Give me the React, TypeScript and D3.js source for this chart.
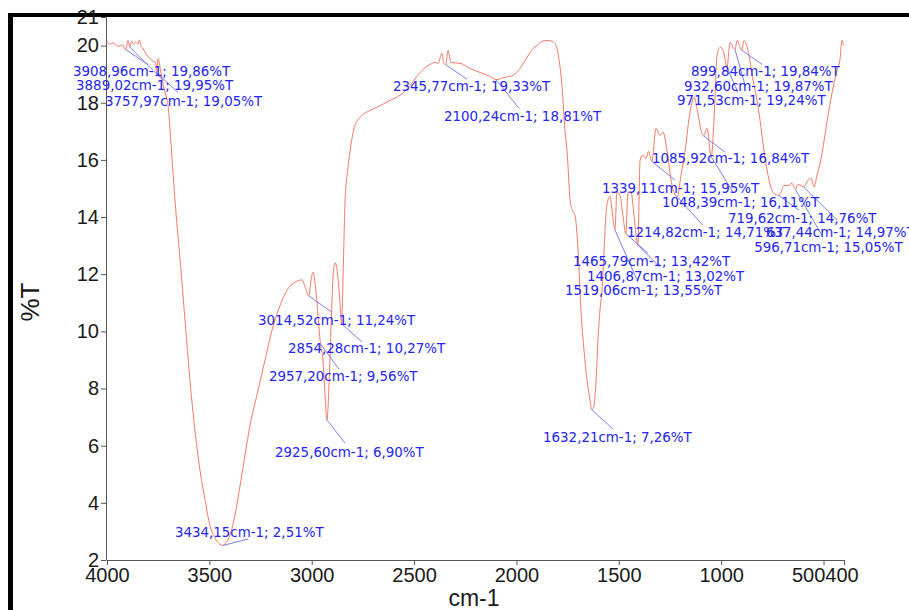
import React, { useRef, useEffect } from "react";
import * as d3 from "d3";

// spectrum (cm-1 / %T)
const wavenumbers = [
  4000, 3985, 3970, 3955, 3940, 3925, 3908.96, 3897, 3889.02, 3880, 3870, 3860, 3850, 3842, 3835, 3825,
  3805, 3790, 3775, 3762, 3757.97, 3750, 3740, 3725, 3710, 3700, 3692, 3680, 3668, 3643, 3619, 3595,
  3570, 3546, 3521, 3497, 3472, 3450, 3434.15, 3420, 3399, 3375, 3350, 3326, 3301, 3262, 3228, 3194,
  3155, 3121, 3082, 3047, 3030, 3014.52, 3003, 2994, 2982, 2970, 2957.2, 2945, 2935, 2925.6, 2915, 2905,
  2895, 2886, 2875, 2862, 2854.28, 2846, 2837, 2825, 2813, 2789, 2754, 2715, 2666, 2618, 2569, 2520,
  2471, 2422, 2398, 2383, 2364, 2355, 2345.77, 2334, 2320, 2276, 2227, 2178, 2129, 2100.24, 2056, 2017,
  1983, 1948, 1919, 1900, 1875, 1851, 1826, 1812, 1797, 1777, 1763, 1753, 1738, 1725, 1714, 1699,
  1685, 1670, 1655, 1641, 1632.21, 1621, 1611, 1602, 1592, 1582, 1572, 1563, 1553, 1543, 1533, 1519.06,
  1509, 1494, 1480, 1465.79, 1455, 1440, 1426, 1406.87, 1396, 1382, 1367, 1355, 1339.11, 1318, 1299, 1284,
  1265, 1240, 1214.82, 1196, 1176, 1151, 1132, 1112, 1098, 1085.92, 1069, 1048.39, 1035, 1020, 1005, 990,
  971.53, 957, 942, 932.6, 922, 908, 899.84, 888, 869, 844, 825, 810, 791, 771, 752, 737,
  719.62, 708, 693, 673, 654, 637.44, 625, 610, 596.71, 576, 561, 546, 532, 517, 497, 478,
  453, 434, 419, 410, 405, 400,
];
const transmittance = [
  20.15, 20.05, 20.1, 20.0, 19.98, 20.02, 19.86, 20.18, 19.95, 20.15, 20.05, 20.12, 20.05, 20.2, 20.0, 19.9,
  19.66, 19.55, 19.45, 19.4, 19.05, 19.55, 19.2, 18.6, 18.2, 17.8, 17.03, 15.8, 14.6, 12.5, 10.4, 8.3,
  6.5, 5.15, 4.1, 3.2, 2.77, 2.56, 2.51, 2.6, 2.87, 3.57, 4.6, 5.67, 6.72, 7.94, 9.0, 10.04,
  10.9, 11.44, 11.72, 11.8, 11.5, 11.24, 11.8, 12.07, 11.6, 10.6, 9.56, 9.0, 7.8, 6.9, 8.2, 10.3,
  12.0, 12.4, 12.1, 11.0, 10.27, 12.2, 14.6, 15.6, 16.3, 17.2, 17.56, 17.73, 17.9, 18.08, 18.26, 18.6,
  19.06, 19.34, 19.41, 19.38, 19.73, 19.38, 19.33, 19.83, 19.41, 19.38, 19.2, 19.06, 18.92, 18.81, 18.89, 18.96,
  19.2, 19.59, 19.9, 20.0, 20.15, 20.18, 20.15, 20.08, 19.73, 18.54, 17.03, 16.34, 14.6, 14.2, 14.06, 12.84,
  10.74, 9.34, 8.29, 7.6, 7.26, 7.42, 8.29, 9.69, 10.74, 11.44, 12.84, 14.06, 14.59, 14.73, 14.24, 13.55,
  14.87, 14.76, 14.06, 13.42, 14.87, 14.87, 14.06, 13.02, 15.99, 16.16, 16.06, 16.3, 15.95, 17.1, 16.86, 16.97,
  16.34, 15.1, 14.71, 15.46, 16.34, 17.73, 18.19, 17.56, 17.03, 16.84, 17.1, 16.11, 17.38, 19.66, 19.94, 19.83,
  19.24, 20.11, 19.94, 19.87, 20.18, 19.94, 19.84, 20.18, 19.83, 18.78, 18.08, 17.38, 16.34, 15.46, 14.94, 14.8,
  14.76, 14.87, 15.1, 15.1, 15.18, 14.97, 15.15, 15.1, 15.05, 15.29, 15.36, 15.05, 15.46, 15.88, 16.69, 17.56,
  18.54, 19.13, 19.55, 20.18, 20.08, 20.0,
];

// picked peaks
const peakWn = [3908.96, 3889.02, 3757.97, 2345.77, 2100.24, 899.84, 932.6, 971.53, 1085.92, 1339.11, 1048.39, 1214.82, 719.62, 637.44, 596.71, 1465.79, 1406.87, 1519.06, 3014.52, 2854.28, 2957.2, 2925.6, 1632.21, 3434.15];
const peakT = [19.86, 19.95, 19.05, 19.33, 18.81, 19.84, 19.87, 19.24, 16.84, 15.95, 16.11, 14.71, 14.76, 14.97, 15.05, 13.42, 13.02, 13.55, 11.24, 10.27, 9.56, 6.9, 7.26, 2.51];
// where each label sits (left edge / baseline) and where its leader ends, in axis units
const labelWn = [4166, 4151, 4010, 2603, 2354, 1147, 1181, 1216, 1338, 1582, 1289, 1460, 967, 781, 839, 1724, 1655, 1763, 3262, 3116, 3209, 3179, 1870, 3668];
const labelT = [18.92, 18.43, 17.87, 18.4, 17.35, 18.92, 18.4, 17.91, 15.88, 14.83, 14.34, 13.29, 13.78, 13.29, 12.77, 12.28, 11.76, 11.27, 10.22, 9.24, 8.26, 5.6, 6.13, 2.8];
const leaderWn = [3800, 3726, 3653, 2241, 1987, 800, 883, 918, 981, 1225, 942, 1089, 620, 502, 434, 1357, 1299, 1406, 2901, 2754, 2867, 2837, 1528, 3311];
const leaderT = [19.34, 18.78, 18.36, 18.82, 17.8, 19.34, 18.61, 18.36, 16.27, 15.29, 14.87, 13.71, 14.24, 13.29, 13.89, 12.73, 12.24, 11.72, 10.67, 9.62, 8.68, 6.09, 6.58, 2.73];

const xTicks = [4000, 3500, 3000, 2500, 2000, 1500, 1000, 500, 400];
const yTicks = [2, 4, 6, 8, 10, 12, 14, 16, 18, 20, 21];

const fmt = (v) => v.toFixed(2).replace(".", ",");

const App = () => {
  const svgRef = useRef(null);

  useEffect(() => {
    const svg = d3.select(svgRef.current);
    svg.selectAll("*").remove();

    const x = d3.scaleLinear().domain([4000, 400]).range([107, 844]);
    const y = d3.scaleLinear().domain([2, 21]).range([560, 17]);

    // window frame
    svg.append("rect").attr("x", 8).attr("y", 13).attr("width", 901).attr("height", 4).attr("fill", "#000");
    svg.append("rect").attr("x", 8).attr("y", 13).attr("width", 5).attr("height", 597).attr("fill", "#000");

    // axes
    const gx = svg
      .append("g")
      .attr("transform", "translate(0,560)")
      .call(d3.axisBottom(x).tickValues(xTicks).tickFormat(d3.format("d")).tickSize(5).tickSizeOuter(0).tickPadding(3));
    const gy = svg
      .append("g")
      .attr("transform", "translate(106,0)")
      .call(d3.axisLeft(y).tickValues(yTicks).tickFormat(d3.format("d")).tickSize(5).tickSizeOuter(0).tickPadding(2));
    [gx, gy].forEach((g) => {
      g.selectAll("path,line").attr("stroke", "#555");
      g.selectAll("text")
        .attr("fill", "#1a1a1a")
        .style("font-family", "'Liberation Sans', Arial, sans-serif")
        .style("font-size", "20px");
    });
    // the last two x labels are pushed apart so they don't overlap (as the original software does)
    const gap = x(400) - x(500);
    gx.selectAll(".tick text")
      .filter((d) => d === 500)
      .attr("text-anchor", "end")
      .attr("x", gap / 2 - 9);
    gx.selectAll(".tick text")
      .filter((d) => d === 400)
      .attr("text-anchor", "start")
      .attr("x", -gap / 2 - 9);

    svg
      .append("text")
      .attr("x", 474)
      .attr("y", 606)
      .attr("text-anchor", "middle")
      .style("font-family", "'Liberation Sans', Arial, sans-serif")
      .style("font-size", "23px")
      .attr("fill", "#1a1a1a")
      .text("cm-1");

    svg
      .append("text")
      .attr("transform", "translate(39,302) rotate(-90)")
      .attr("text-anchor", "middle")
      .style("font-family", "'Liberation Sans', Arial, sans-serif")
      .style("font-size", "26px")
      .attr("fill", "#1a1a1a")
      .text("%T");

    // spectrum
    const line = d3
      .line()
      .x((d) => x(d[0]))
      .y((d) => y(d[1]))
      .curve(d3.curveMonotoneX);
    svg
      .append("path")
      .datum(wavenumbers.map((w, i) => [w, transmittance[i]]))
      .attr("fill", "none")
      .attr("stroke", "#f47a66")
      .attr("stroke-width", 1)
      .attr("d", line);

    // peak labels
    const peaks = peakWn.map((w, i) => ({
      w,
      t: peakT[i],
      lw: labelWn[i],
      lt: labelT[i],
      ew: leaderWn[i],
      et: leaderT[i],
    }));

    svg
      .selectAll(".leader")
      .data(peaks)
      .enter()
      .append("line")
      .attr("class", "leader")
      .attr("x1", (d) => x(d.w))
      .attr("y1", (d) => y(d.t))
      .attr("x2", (d) => x(d.ew))
      .attr("y2", (d) => y(d.et))
      .attr("stroke", "#7f7fef")
      .attr("stroke-width", 1);

    svg
      .selectAll(".peak-label")
      .data(peaks)
      .enter()
      .append("text")
      .attr("class", "peak-label")
      .attr("x", (d) => x(d.lw))
      .attr("y", (d) => y(d.lt))
      .attr("fill", "#2424f4")
      .style("font-family", "'DejaVu Sans', Verdana, sans-serif")
      .style("font-size", "13.4px")
      .text((d) => `${fmt(d.w)}cm-1; ${fmt(d.t)}%T`);
  }, []);

  return (
    <svg
      ref={svgRef}
      width={909}
      height={610}
      style={{ position: "absolute", left: 0, top: 0, background: "#fff" }}
    ></svg>
  );
};

export default App;
